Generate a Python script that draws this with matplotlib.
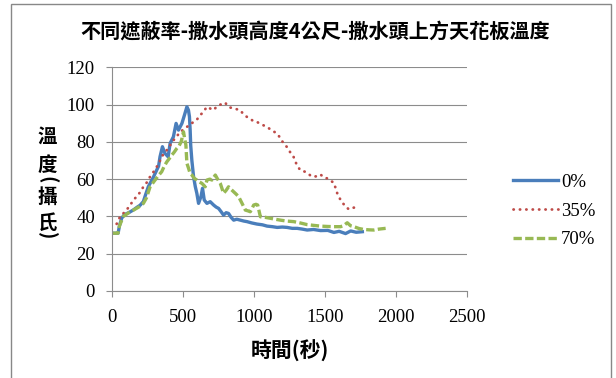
import matplotlib
matplotlib.use('Agg')
import matplotlib.pyplot as plt
from matplotlib.patches import Rectangle

# 0% 遮蔽率
t0 = [0, 20, 45, 55, 70, 90, 120, 153, 180, 200, 223, 240, 258, 270, 293, 317, 330, 340, 357, 374,
      397, 411, 434, 453, 470, 494, 512, 529, 540, 547, 552, 556, 564, 576, 588, 599, 611, 628, 639, 651,
      670, 693, 717, 735, 752, 770, 787, 805, 822, 840, 858, 880, 905, 930, 952, 985, 1022, 1060, 1093, 1130,
      1164, 1200, 1234, 1270, 1305, 1340, 1375, 1420, 1469, 1520, 1563, 1600, 1645, 1681, 1720, 1763]
T0 = [31, 31, 31, 35, 39, 41, 42, 43.5, 45, 46, 48, 52, 56, 57.7, 61, 64.9, 67, 72, 77.4, 73.9,
      72, 79.2, 82.7, 89.9, 86.3, 89.9, 94.4, 98.8, 97, 93.5, 86.3, 78, 70, 61.3, 56, 52.4, 47, 50.6, 55.1, 48.8,
      47, 47.9, 46.1, 45, 44.3, 42.5, 40.7, 42, 41.6, 39.5, 38, 38.5, 38, 37.5, 37.2, 36.5, 35.9, 35.5, 34.8, 34.5,
      34.1, 34.3, 34.1, 33.6, 33.6, 33.2, 32.7, 33, 32.4, 32.5, 31.4, 32, 30.8, 32.2, 31.5, 31.8]

# 35% 遮蔽率
t35 = [35, 47, 60, 82, 110, 130, 153, 180, 200, 223, 245, 270, 295, 317, 335, 352, 370, 387, 405, 423,
       450, 481, 505, 528, 550, 575, 600, 622, 645, 669, 690, 716, 740, 765, 786, 800, 810, 830, 857, 880,
       904, 925, 951, 980, 1000, 1021, 1050, 1092, 1120, 1162, 1187, 1210, 1232, 1255, 1279, 1300, 1326, 1363, 1410, 1440,
       1469, 1490, 1516, 1563, 1587, 1610, 1645, 1669, 1690, 1709]
T35 = [36, 38, 40, 41.6, 44, 46, 48.8, 51, 53, 55.9, 58, 61.3, 64, 66.6, 69, 72, 74, 75.5, 77, 80,
       82, 85.4, 86.5, 88, 89, 90.7, 92, 94.3, 96, 98.8, 98, 97, 99, 100, 100.5, 101, 99.6, 98.5, 97.9, 97.5,
       97, 95, 93.4, 92, 91, 90.7, 89.5, 88, 86.5, 84.5, 82, 79, 77.3, 74.5, 72, 68, 64.8, 63.9, 61.3, 61.5,
       62.5, 61, 60.4, 58, 52.3, 48.8, 45.2, 43.8, 44.5, 44.8]

# 70% 遮蔽率
t70 = [0, 45, 55, 82, 120, 153, 190, 223, 245, 270, 305, 330, 352, 370, 388, 405, 423, 440, 458, 475,
       489, 505, 515, 522, 529, 540, 552, 564, 580, 599, 617, 635, 658, 670, 690, 705, 729, 745, 764, 787,
       805, 822, 840, 858, 875, 893, 917, 940, 958, 975, 999, 1015, 1027, 1046, 1080, 1116, 1150, 1187, 1232, 1281,
       1326, 1375, 1420, 1469, 1520, 1563, 1610, 1630, 1657, 1680, 1704, 1740, 1774, 1810, 1844, 1880, 1927]
T70 = [31, 31, 35, 40, 42, 43.4, 45, 47, 50, 55.9, 59.5, 62, 64, 67, 69.3, 71, 72.9, 74.5, 76.5, 78,
       80.1, 85.4, 81, 78.3, 68.5, 66, 63, 62.2, 60.5, 59.5, 58.5, 57.7, 55.9, 59.5, 60, 59.5, 62.2, 60, 57.7, 52.4,
       54, 55.9, 54.5, 53.2, 52, 50.6, 47, 43.4, 43, 42.5, 46.1, 46.5, 46.1, 39.8, 39.5, 39, 38.5, 38, 37.5, 37.2,
       36.5, 35.6, 35.2, 34.8, 34.6, 34.5, 34.5, 35, 36.6, 35, 34.5, 33.5, 33, 32.8, 32.7, 33.2, 33.6]

xticks = [0, 500, 1000, 1500, 2000, 2500]
yticks = [0, 20, 40, 60, 80, 100, 120]

cjk = ['Noto Sans CJK TC', 'DejaVu Sans']
num = 'Liberation Serif'
grid_c = '#8c8c8c'

fig = plt.figure(figsize=(6.16, 3.78), dpi=100)
ax = fig.add_axes([0.1813, 0.2302, 0.577, 0.5918])

ax.plot(t0, T0, color='#4A7EBB', lw=2.4, label='0%', solid_joinstyle='round')
ax.plot(t35, T35, color='#BE4B48', lw=2.0, linestyle=(0, (0.1, 2.2)),
        dash_capstyle='round', label='35%')
ax.plot(t70, T70, color='#98B954', lw=2.4, linestyle=(0, (2.5, 1.0)), label='70%')

ax.set_xlim(0, 2500)
ax.set_ylim(0, 120)
ax.set_xticks(xticks)
ax.set_yticks(yticks)
ax.grid(True, axis='y', color=grid_c, lw=0.8)
ax.set_axisbelow(True)
for s in ['top', 'right']:
    ax.spines[s].set_visible(False)
for s in ['left', 'bottom']:
    ax.spines[s].set_color(grid_c)
    ax.spines[s].set_linewidth(0.8)
ax.tick_params(direction='out', length=4, width=0.8, color=grid_c, labelsize=13.5)
ax.tick_params(axis='y', pad=8)
ax.tick_params(axis='x', pad=9)
for lb in ax.get_xticklabels() + ax.get_yticklabels():
    lb.set_fontfamily(num)

ax.set_xlabel('時間(秒)', family=cjk, fontsize=15, fontweight='bold', labelpad=10)

# 縱向 y 軸標題 (括號旋轉成直排)
ych = [('溫', 0, 14), ('度', 0, 14), ('(', -90, 14), ('攝', 0, 14), ('氏', 0, 14), (')', -90, 14)]
ypos = [137, 165, 180, 197, 223, 236]
for (c, r, fs), yp in zip(ych, ypos):
    fig.text(47 / 616, 1 - yp / 378, c, family=cjk, fontsize=fs, fontweight='bold',
             ha='center', va='center', rotation=r, rotation_mode='anchor')

fig.text(315 / 616, 1 - 31 / 378, '不同遮蔽率-撒水頭高度4公尺-撒水頭上方天花板溫度',
         family=cjk, fontsize=14.5, fontweight='bold', ha='center', va='center')

leg = fig.legend(loc='center left', bbox_to_anchor=(513 / 616, 1 - 211 / 378), frameon=False,
                 prop={'family': num, 'size': 13.5}, handlelength=2.4, handletextpad=0.15,
                 labelspacing=0.62, borderpad=0, borderaxespad=0)

fig.add_artist(Rectangle((11 / 616, -0.1), 600 / 616, 1.1 - 4 / 378, transform=fig.transFigure,
                         fill=False, edgecolor='#888888', lw=1))

fig.savefig('out.png', dpi=100)
